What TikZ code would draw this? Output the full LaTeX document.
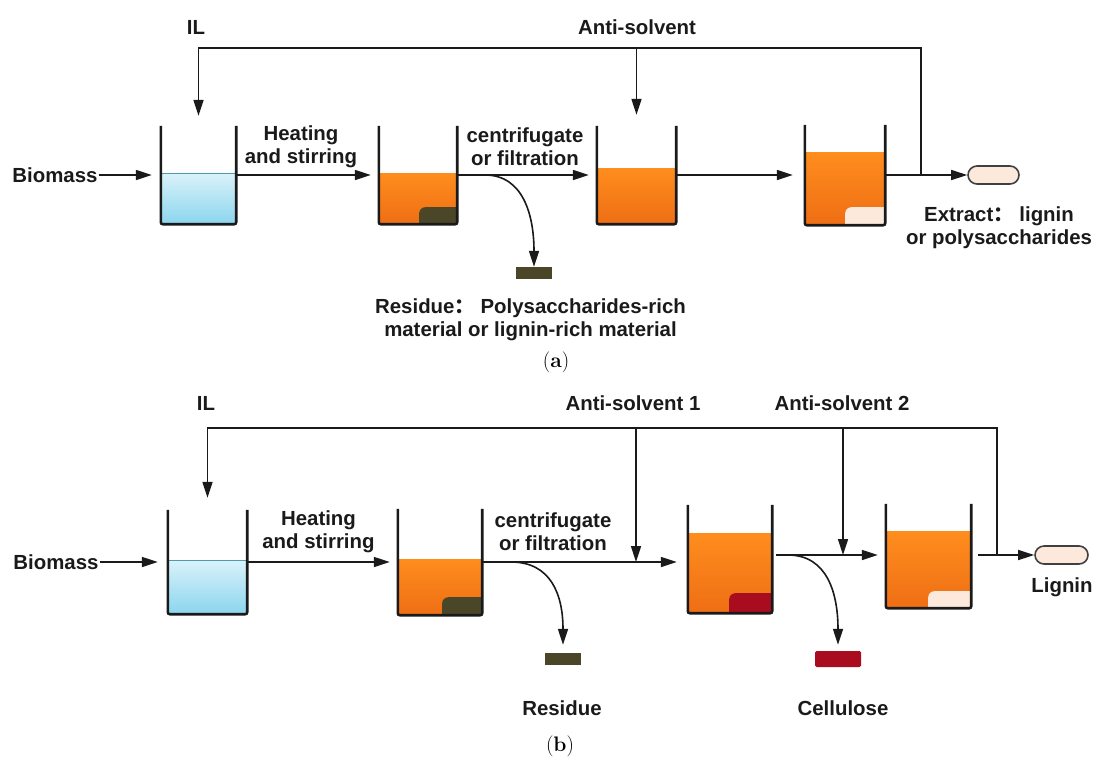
\documentclass[tikz,border=0pt]{standalone}
\usepackage{fontspec}
\usepackage{tikz}
\usetikzlibrary{arrows.meta,positioning,calc}

\newfontfamily\labelfont{Liberation Sans}
\newfontfamily\cjkfont{Noto Sans CJK SC}

\definecolor{inkcol}{HTML}{1A1A1A}
\definecolor{watertop}{HTML}{DAF2FA}
\definecolor{waterbot}{HTML}{8AD5EE}
\definecolor{waterrim}{HTML}{4E9CAA}
\definecolor{liqtop}{HTML}{FF8D1E}
\definecolor{liqbot}{HTML}{EE6E14}
\definecolor{sediment}{HTML}{4B4628}
\definecolor{cellred}{HTML}{A80C1E}
\definecolor{cream}{HTML}{FDE9DC}

\begin{document}
\begin{tikzpicture}[x=1pt, y=-1pt]
    % Define styles
    \tikzstyle{lbl} = [font=\labelfont\bfseries\fontsize{20.4}{23}\selectfont, text=inkcol, align=center, inner sep=1pt]
    \tikzstyle{beaker} = [rectangle, inner sep=0pt]
    \tikzstyle{wall} = [line width=2.6pt, draw=inkcol, rounded corners=2pt]
    \tikzstyle{water} = [top color=watertop, bottom color=waterbot]
    \tikzstyle{oil} = [top color=liqtop, bottom color=liqbot]
    \tikzstyle{capsule} = [rectangle, rounded corners=9pt, draw=black!75, line width=1.6pt, fill=cream, minimum width=51pt, minimum height=18pt]
    \tikzstyle{cake} = [rectangle, inner sep=0pt, minimum width=36pt, minimum height=12pt]
    \tikzstyle{arrow} = [line width=1.6pt, draw=inkcol, -{Triangle[length=16pt,width=10pt]}]

    \useasboundingbox (0,0) rectangle (1094,758);

    % ---------- (a) ----------
    % Beakers
    \node[beaker, minimum width=75pt, minimum height=98pt] (a1) at (198.5,175) {};
    \node[beaker, minimum width=78pt, minimum height=98pt] (a2) at (418,175) {};
    \node[beaker, minimum width=79pt, minimum height=98pt] (a3) at (636.5,175) {};
    \node[beaker, minimum width=80pt, minimum height=100pt] (a4) at (845,175) {};

    \shade[water] (a1.south west) rectangle ([yshift=2pt]a1.east);
    \draw[waterrim, line width=1pt] ([yshift=2pt]a1.west) -- ([yshift=2pt]a1.east);
    \shade[oil] (a2.south west) rectangle ([yshift=2pt]a2.east);
    \shade[oil] (a3.south west) rectangle ([yshift=7pt]a3.east);
    \shade[oil] (a4.south west) rectangle ([yshift=23pt]a4.east);

    \fill[sediment] (a2.south east) -- ++(-38,0) [rounded corners=6pt] -- ++(0,-17) [sharp corners] -- ++(38,0) -- cycle;
    \fill[cream] (a4.south east) -- ++(-40,0) [rounded corners=6pt] -- ++(0,-18) [sharp corners] -- ++(40,0) -- cycle;

    \draw[wall] (a1.north west) -- (a1.south west) -- (a1.south east) -- (a1.north east);
    \draw[wall] (a2.north west) -- (a2.south west) -- (a2.south east) -- (a2.north east);
    \draw[wall] (a3.north west) -- (a3.south west) -- (a3.south east) -- (a3.north east);
    \draw[wall] (a4.north west) -- (a4.south west) -- (a4.south east) -- (a4.north east);

    % Labels
    \node[lbl] (bioa) at (55,175) {Biomass};
    \node[lbl] (ila) at (196,27) {IL};
    \node[lbl] (antia) at (637,27) {Anti-solvent};
    \node[lbl] (heata) at (301,147) {Heating\\and stirring};
    \node[lbl] (sepa) at (525,147) {centrifugate\\or filtration};
    \node[capsule] (exta) at (993.5,175) {};
    \node[lbl] (extta) at (999,227.5) {Extract{\cjkfont ：} lignin\\or polysaccharides};
    \node[cake, fill=sediment] (resa) at (534,273) {};
    \node[lbl] (resta) at (530.5,319.5) {Residue{\cjkfont ：} Polysaccharides-rich\\material or lignin-rich material};
    \node[font=\fontsize{21}{24}\selectfont, inner sep=0pt] (capa) at (556,362) {(\textbf{a})};

    \coordinate (juna) at (921,175);
    \coordinate (cornera) at (921,48);
    \coordinate (spla) at (485,175);

    % Arrows
    \draw[arrow] (bioa) -- ([xshift=-9pt]a1.west);
    \draw[arrow] (a1.east) -- ([xshift=-8pt]a2.west);
    \draw[arrow] (a2.east) -- ([xshift=-8pt]a3.west);
    \draw[arrow] (a3.east) -- ([xshift=-12pt]a4.west);
    \draw[arrow] (a4.east) -- (exta);
    \draw[arrow] (juna) -- (cornera) -| ([yshift=10pt]a1.north);
    \draw[arrow] (a3 |- cornera) -- ([yshift=11pt]a3.north);
    \draw[arrow] (spla) .. controls +(38,0) and +(0,-52) .. (resa.north);

    % ---------- (b) ----------
    % Beakers
    \node[beaker, minimum width=79pt, minimum height=104pt] (b1) at (207.5,562) {};
    \node[beaker, minimum width=84pt, minimum height=106pt] (b2) at (440,562) {};
    \node[beaker, minimum width=84pt, minimum height=108pt] (b3) at (730,559) {};
    \node[beaker, minimum width=85pt, minimum height=104pt] (b4) at (928.5,556) {};

    \shade[water] (b1.south west) rectangle ([yshift=2pt]b1.east);
    \draw[waterrim, line width=1pt] ([yshift=2pt]b1.west) -- ([yshift=2pt]b1.east);
    \shade[oil] (b2.south west) rectangle ([yshift=3pt]b2.east);
    \shade[oil] (b3.south west) rectangle ([yshift=26pt]b3.east);
    \shade[oil] (b4.south west) rectangle ([yshift=25pt]b4.east);

    \fill[sediment] (b2.south east) -- ++(-40,0) [rounded corners=6pt] -- ++(0,-18) [sharp corners] -- ++(40,0) -- cycle;
    \fill[cellred] (b3.south east) -- ++(-43,0) [rounded corners=6pt] -- ++(0,-20) [sharp corners] -- ++(43,0) -- cycle;
    \fill[cream] (b4.south east) -- ++(-43,0) [rounded corners=6pt] -- ++(0,-17) [sharp corners] -- ++(43,0) -- cycle;

    \draw[wall] (b1.north west) -- (b1.south west) -- (b1.south east) -- (b1.north east);
    \draw[wall] (b2.north west) -- (b2.south west) -- (b2.south east) -- (b2.north east);
    \draw[wall] (b3.north west) -- (b3.south west) -- (b3.south east) -- (b3.north east);
    \draw[wall] (b4.north west) -- (b4.south west) -- (b4.south east) -- (b4.north east);

    % Labels
    \node[lbl] (biob) at (56,562) {Biomass};
    \node[lbl] (ilb) at (206,403) {IL};
    \node[lbl] (anti1) at (633,403) {Anti-solvent 1};
    \node[lbl] (anti2) at (842,403) {Anti-solvent 2};
    \node[lbl] (heatb) at (318.5,531.5) {Heating\\and stirring};
    \node[lbl] (sepb) at (553,531.5) {centrifugate\\or filtration};
    \node[capsule, minimum width=53pt] (lig) at (1061.5,555) {};
    \node[lbl] (ligt) at (1062,587) {Lignin};
    \node[cake, fill=sediment] (resb) at (563,659) {};
    \node[lbl] (restb) at (562,708) {Residue};
    \node[cake, fill=cellred, minimum width=46pt, minimum height=16pt, rounded corners=1.5pt] (cell) at (838,659) {};
    \node[lbl] (cellt) at (843,708) {Cellulose};
    \node[font=\fontsize{21}{24}\selectfont, inner sep=0pt] (capb) at (560,746) {(\textbf{b})};

    \coordinate (junb) at (997,555);
    \coordinate (cornerb) at (997,428);
    \coordinate (mix1) at (636,562);
    \coordinate (mix2) at (843,555);
    \coordinate (splb1) at (511,562);
    \coordinate (splb2) at (788,555);

    % Arrows
    \draw[arrow] (biob) -- ([xshift=-10pt]b1.west);
    \draw[arrow] (b1.east) -- ([xshift=-8pt]b2.west);
    \draw[arrow] (b2.east) -- ([xshift=-11pt]b3.west |- b2.east);
    \draw[arrow] ([xshift=4pt]b3.east |- mix2) -- ([xshift=-8pt]b4.west |- mix2);
    \draw[arrow] ([xshift=7pt]b4.east |- junb) -- (lig);
    \draw[arrow] (junb) -- (cornerb) -| ([yshift=12pt]b1.north);
    \draw[arrow] (mix1 |- cornerb) -- (mix1);
    \draw[arrow] (mix2 |- cornerb) -- (mix2);
    \draw[arrow] (splb1) .. controls +(40,0) and +(0,-50) .. ([yshift=8pt]resb.north);
    \draw[arrow] (splb2) .. controls +(40,0) and +(0,-50) .. ([yshift=6pt]cell.north);
\end{tikzpicture}
\end{document}
